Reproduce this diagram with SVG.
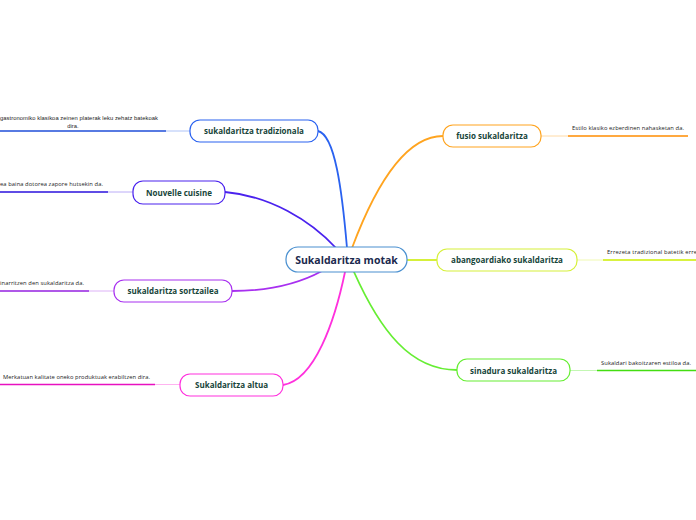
<svg xmlns="http://www.w3.org/2000/svg" width="696" height="520" viewBox="0 0 696 520">
<style>
.node{fill:#fff;stroke-width:1.2}
.nt{font-family:"Open Sans",sans-serif;font-weight:bold;font-size:8px;fill:#17453a;text-anchor:middle}
.ct{font-family:"Open Sans",sans-serif;font-weight:bold;font-size:10.5px;fill:#1b2a4e;text-anchor:middle}
.dt{font-family:"Open Sans",sans-serif;font-size:5.8px;fill:#222}
.dt2{font-family:"Liberation Sans",Arial,sans-serif;font-size:5.8px;fill:#222}
.con{fill:none;stroke-width:1.8;stroke-linecap:round}
.thin{stroke-width:0.8}
.thick{stroke-width:1.6}
</style>
<rect width="696" height="520" fill="#fff"/>
<g id="connectors">
<path class="con" stroke="#2a62f0" d="M318,131 C335,135 342,190 347,248"/>
<path class="con" stroke="#ffa41f" d="M443,136 C400,136 370,200 352,248"/>
<path class="con" stroke="#4a22ee" d="M225,192 C270,196 310,220 336,248"/>
<path class="con" stroke="#a830f0" d="M232,291 C270,291 300,283 322,271"/>
<path class="con" stroke="#ff30dd" d="M283,385 C315,380 335,320 345,272"/>
<path class="con" stroke="#66ee33" d="M457,370 C410,370 380,330 354,272"/>
<path class="con" stroke="#d6f03a" d="M407,260 L437,260"/>
</g>
<g id="center">
<rect class="node" x="286" y="247" width="121" height="25" rx="12" stroke="#4a90d0"/>
<text class="ct" x="346.5" y="263.5">Sukaldaritza motak</text>
</g>
<g id="tradizionala">
<line class="thin" x1="166" y1="131" x2="190" y2="131" stroke="#9ab4f5"/>
<line class="thick" x1="0" y1="131" x2="166" y2="131" stroke="#1f4ed8"/>
<text class="dt2" x="0" y="120" textLength="158" lengthAdjust="spacing">gastronomiko klasikoa zeinen platerak leku zehatz batekoak</text>
<text class="dt2" x="73" y="127.5" text-anchor="middle">dira.</text>
<rect class="node" x="190" y="120" width="128" height="22" rx="10" stroke="#2a62f0"/>
<text class="nt" x="254" y="134">sukaldaritza tradizionala</text>
</g>
<g id="nouvelle">
<line class="thin" x1="108" y1="192" x2="133" y2="192" stroke="#a898f5"/>
<line class="thick" x1="0" y1="192" x2="108" y2="192" stroke="#2a10dd"/>
<text class="dt" x="0" y="186" textLength="103" lengthAdjust="spacing">ea baina dotorea zapore hutsekin da.</text>
<rect class="node" x="133" y="181" width="92" height="23" rx="10" stroke="#4a22ee"/>
<text class="nt" x="179" y="195.5">Nouvelle cuisine</text>
</g>
<g id="sortzailea">
<line class="thin" x1="89" y1="291" x2="114" y2="291" stroke="#d4a0f5"/>
<line class="thick" x1="0" y1="291" x2="89" y2="291" stroke="#9420e0"/>
<text class="dt" x="0" y="285" textLength="84" lengthAdjust="spacing">inarritzen den sukaldaritza da.</text>
<rect class="node" x="114" y="280" width="118" height="22" rx="10" stroke="#a830f0"/>
<text class="nt" x="173" y="294">sukaldaritza sortzailea</text>
</g>
<g id="altua">
<line class="thin" x1="155" y1="384.5" x2="180" y2="384.5" stroke="#ffa0ec"/>
<line class="thick" x1="0" y1="384.5" x2="155" y2="384.5" stroke="#e810c0"/>
<text class="dt" x="3" y="379" textLength="147" lengthAdjust="spacing">Merkatuan kalitate oneko produktuak erabiltzen dira.</text>
<rect class="node" x="180" y="374" width="103" height="22" rx="10" stroke="#ff30dd"/>
<text class="nt" x="231.5" y="388">Sukaldaritza altua</text>
</g>
<g id="fusio">
<line class="thin" x1="541" y1="136" x2="568" y2="136" stroke="#ffd090"/>
<line class="thick" x1="568" y1="136" x2="688" y2="136" stroke="#ff8c00"/>
<text class="dt" x="572" y="130" textLength="112" lengthAdjust="spacing">Estilo klasiko ezberdinen nahasketan da.</text>
<rect class="node" x="443" y="125" width="98" height="22" rx="10" stroke="#ffa41f"/>
<text class="nt" x="492" y="139">fusio sukaldaritza</text>
</g>
<g id="abangoardiako">
<line class="thin" x1="577" y1="260" x2="603" y2="260" stroke="#ecf8a0"/>
<line class="thick" x1="603" y1="260" x2="696" y2="260" stroke="#ccee00"/>
<text class="dt" x="607" y="254" textLength="90" lengthAdjust="spacing">Errezeta tradizional batetik erre</text>
<rect class="node" x="437" y="249" width="140" height="22" rx="10" stroke="#d6f03a"/>
<text class="nt" x="507" y="263">abangoardiako sukaldaritza</text>
</g>
<g id="sinadura">
<line class="thin" x1="570" y1="370.5" x2="597" y2="370.5" stroke="#b4f5a0"/>
<line class="thick" x1="597" y1="370.5" x2="696" y2="370.5" stroke="#44dd11"/>
<text class="dt" x="601" y="365" textLength="90" lengthAdjust="spacing">Sukaldari bakoitzaren estiloa da.</text>
<rect class="node" x="457" y="359" width="113" height="22" rx="10" stroke="#66ee33"/>
<text class="nt" x="513.5" y="373.5">sinadura sukaldaritza</text>
</g>
</svg>
